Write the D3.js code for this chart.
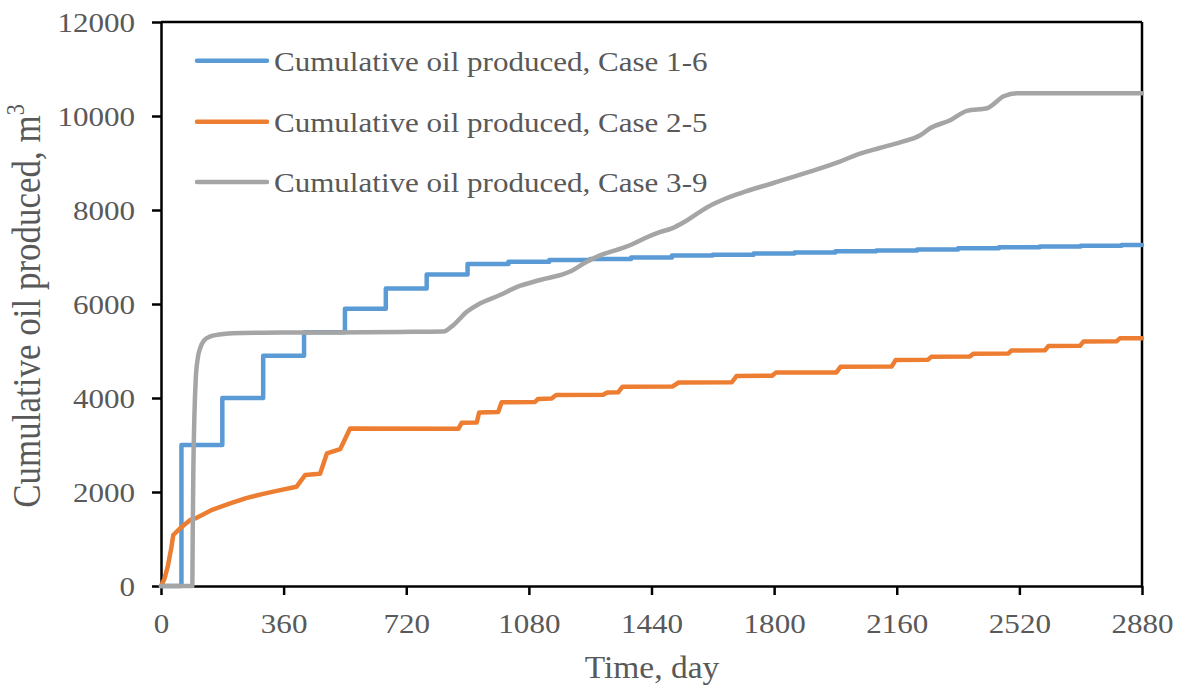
<!DOCTYPE html>
<html>
<head>
<meta charset="utf-8">
<script src="https://cdn.jsdelivr.net/npm/d3@7"></script>
<style>
  html, body { margin: 0; padding: 0; background: #fff; }
  svg { display: block; }
</style>
</head>
<body>
<svg id="chart" width="1181" height="692"></svg>
<script>
// ---------- data ----------
const xTicks = [0, 360, 720, 1080, 1440, 1800, 2160, 2520, 2880];
const yTicks = [0, 2000, 4000, 6000, 8000, 10000, 12000];
const seriesNames = [
  "Cumulative oil produced, Case 1-6",
  "Cumulative oil produced, Case 2-5",
  "Cumulative oil produced, Case 3-9"
];
const seriesColors = ["#5B9BD5", "#ED7D31", "#A5A5A5"];

// Case 1-6 (step changes)
const case16Days = [0, 60, 180, 300, 420, 540, 660, 780, 900, 1020, 1140, 1260, 1380, 1500, 1620, 1740, 1860, 1980, 2100, 2220, 2340, 2460, 2580, 2700, 2820, 2880];
const case16Oil  = [0, 3000, 4000, 4900, 5400, 5900, 6330, 6630, 6850, 6900, 6935, 6960, 6990, 7030, 7050, 7075, 7095, 7120, 7140, 7160, 7185, 7205, 7225, 7240, 7255, 7255];

// Case 2-5
const case25Days = [0, 10, 20, 30, 36, 56, 85, 105, 150, 203, 250, 300, 350, 398, 423, 467, 487, 526, 555, 873, 883, 927, 934, 990, 1000, 1098, 1107, 1147, 1160, 1298, 1310, 1342, 1355, 1502, 1520, 1676, 1690, 1794, 1805, 1983, 1995, 2145, 2157, 2252, 2262, 2375, 2385, 2487, 2497, 2595, 2605, 2698, 2708, 2805, 2815, 2880];
const case25Oil  = [0, 150, 420, 800, 1085, 1228, 1400, 1450, 1620, 1760, 1870, 1960, 2040, 2113, 2360, 2390, 2820, 2910, 3350, 3345, 3475, 3480, 3690, 3700, 3910, 3915, 3980, 3990, 4065, 4070, 4115, 4120, 4240, 4245, 4330, 4335, 4470, 4475, 4540, 4545, 4665, 4670, 4810, 4815, 4880, 4885, 4940, 4945, 5010, 5015, 5105, 5110, 5200, 5205, 5270, 5270];

// Case 3-9
const case39Days = [0, 92, 93, 95, 98, 102, 108, 116, 126, 145, 170, 210, 300, 500, 700, 829, 858, 897, 936, 995, 1044, 1113, 1201, 1250, 1298, 1338, 1380, 1420, 1460, 1500, 1540, 1582, 1620, 1660, 1700, 1800, 1905, 1993, 2052, 2110, 2170, 2229, 2258, 2317, 2366, 2425, 2474, 2513, 2880];
const case39Oil  = [0, 0, 1000, 2500, 3600, 4400, 4850, 5080, 5220, 5310, 5350, 5380, 5390, 5395, 5405, 5415, 5550, 5830, 6010, 6190, 6360, 6510, 6690, 6900, 7060, 7150, 7260, 7400, 7520, 7610, 7760, 7960, 8120, 8250, 8356, 8580, 8817, 9030, 9200, 9320, 9440, 9590, 9740, 9910, 10110, 10165, 10420, 10484, 10485];

// ---------- layout ----------
const svg = d3.select("#chart");
const L = 161, R = 1142, T = 22, B = 586;
const font = "'Liberation Serif', 'Times New Roman', serif";
const textColor = "#595959";
const fs = 27, sx = 1.15;
const lw = 4.5;

const x = d3.scaleLinear().domain([0, 2880]).range([L, R]);
const y = d3.scaleLinear().domain([0, 12000]).range([B, T]);

// frame
svg.append("line").attr("x1", L).attr("x2", R).attr("y1", T).attr("y2", T)
  .attr("stroke", "#000").attr("stroke-width", 2.5);
svg.append("line").attr("x1", R).attr("x2", R).attr("y1", T).attr("y2", B)
  .attr("stroke", "#000").attr("stroke-width", 2.5);

// axes
const xAxis = svg.append("g").attr("transform", `translate(0,${B})`)
  .call(d3.axisBottom(x).tickValues(xTicks).tickSize(9).tickSizeOuter(0).tickFormat(d3.format("d")));
const yAxis = svg.append("g").attr("transform", `translate(${L},0)`)
  .call(d3.axisLeft(y).tickValues(yTicks).tickSize(9).tickSizeOuter(0).tickFormat(d3.format("d")));

[xAxis, yAxis].forEach(g => {
  g.select(".domain").attr("stroke", "#000").attr("stroke-width", 2.5);
  g.selectAll(".tick line").attr("stroke", "#000").attr("stroke-width", 2.5);
  g.selectAll(".tick text").attr("font-family", font).attr("font-size", fs).attr("fill", textColor);
});
xAxis.selectAll(".tick text").attr("y", 47).attr("dy", null)
  .attr("transform", `scale(${sx},1)`);
yAxis.selectAll(".tick text").attr("x", -26 / sx).attr("dy", "0.34em")
  .attr("transform", `scale(${sx},1)`);

// axis titles
svg.append("text")
  .attr("transform", `translate(652,678) scale(1.08,1)`)
  .attr("text-anchor", "middle")
  .attr("font-family", font).attr("font-size", 31).attr("fill", textColor)
  .text("Time, day");

const yt = svg.append("text")
  .attr("transform", `translate(40,306) rotate(-90) scale(1,1.13)`)
  .attr("text-anchor", "middle")
  .attr("font-family", font).attr("font-size", 35).attr("fill", textColor);
yt.append("tspan").text("Cumulative oil produced, m");
yt.append("tspan").attr("font-size", 22).attr("dy", -14).text("3");

// lines
const line = d3.line().x(d => x(d[0])).y(d => y(d[1]));
const stepLine = d3.line().x(d => x(d[0])).y(d => y(d[1])).curve(d3.curveStepAfter);

const s1 = case16Days.map((d, i) => [d, case16Oil[i]]);
const s2 = case25Days.map((d, i) => [d, case25Oil[i]]);
const s3 = case39Days.map((d, i) => [d, case39Oil[i]]);

svg.append("path").datum(s1).attr("d", stepLine)
  .attr("fill", "none").attr("stroke", seriesColors[0]).attr("stroke-width", lw)
  .attr("stroke-linejoin", "round").attr("stroke-linecap", "round");
svg.append("path").datum(s2).attr("d", line)
  .attr("fill", "none").attr("stroke", seriesColors[1]).attr("stroke-width", lw)
  .attr("stroke-linejoin", "round").attr("stroke-linecap", "round");
svg.append("path").datum(s3).attr("d", line.curve(d3.curveMonotoneX))
  .attr("fill", "none").attr("stroke", seriesColors[2]).attr("stroke-width", lw)
  .attr("stroke-linejoin", "round").attr("stroke-linecap", "round");

// legend
const legendY = [60.7, 121.7, 182];
seriesNames.forEach((name, i) => {
  svg.append("line").attr("x1", 197).attr("x2", 267)
    .attr("y1", legendY[i]).attr("y2", legendY[i])
    .attr("stroke", seriesColors[i]).attr("stroke-width", lw).attr("stroke-linecap", "round");
  svg.append("text")
    .attr("transform", `translate(274,${legendY[i] + 10}) scale(${sx},1)`)
    .attr("font-family", font).attr("font-size", fs).attr("fill", textColor)
    .text(name);
});
</script>
</body>
</html>
